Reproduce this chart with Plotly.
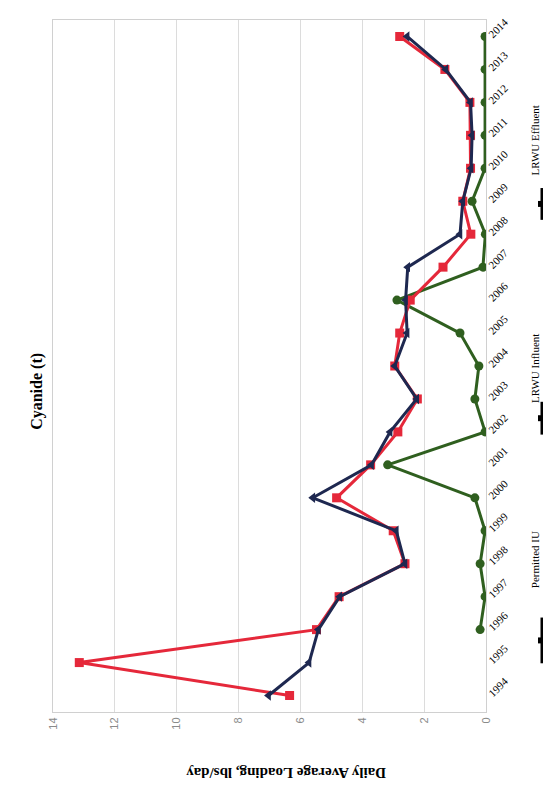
import plotly.graph_objects as go

years = list(range(1994, 2015))
permitted_iu = [None, None, 0.19, 0.03, 0.19, 0.03, 0.36, 3.18, 0.03, 0.36, 0.23, 0.84,
                2.88, 0.10, 0.02, 0.45, 0.03, 0.03, 0.03, 0.03, 0.03]
lrwu_influent = [6.35, 13.15, 5.48, 4.75, 2.62, 3.00, 4.83, 3.73, 2.85, 2.22, 2.95, 2.79,
                 2.45, 1.39, 0.49, 0.75, 0.50, 0.50, 0.52, 1.33, 2.79]
lrwu_effluent = [7.03, 5.72, 5.42, 4.73, 2.62, 2.90, 5.60, 3.70, 3.10, 2.24, 2.95, 2.55,
                 2.60, 2.53, 0.84, 0.75, 0.48, 0.45, 0.50, 1.30, 2.55]
value_ticks = [0, 2, 4, 6, 8, 10, 12, 14]

GREEN = "#2f5f1f"
RED = "#e5283a"
NAVY = "#1e2850"

fig = go.Figure()
fig.add_trace(go.Scatter(x=permitted_iu, y=years, mode="lines+markers", name="Permitted IU",
                         line=dict(color=GREEN, width=3), marker=dict(symbol="circle", size=9, color=GREEN),
                         connectgaps=False))
fig.add_trace(go.Scatter(x=lrwu_influent, y=years, mode="lines+markers", name="LRWU Influent",
                         line=dict(color=RED, width=3), marker=dict(symbol="square", size=9, color=RED)))
fig.add_trace(go.Scatter(x=lrwu_effluent, y=years, mode="lines+markers", name="LRWU Effluent",
                         line=dict(color=NAVY, width=3), marker=dict(symbol="triangle-left", size=9, color=NAVY)))

# page offset caused by default body margin
OFF = 8
W, H = 551 - OFF, 803 - OFF
# plot area in page pixels
PL, PR, PT, PB = 53, 486, 16, 712
L, T = PL - OFF, PT - OFF
R, B = W - (PR - OFF), H - (PB - OFF)
pw, ph = PR - PL, PB - PT

def px(x):
    return (x - PL) / pw

def py(y):
    return (PB - y) / ph

fig.update_layout(
    width=W, height=H,
    margin=dict(l=L, r=R, t=T, b=B),
    paper_bgcolor="white", plot_bgcolor="white",
    showlegend=False,
    font=dict(family="Liberation Serif", color="black"),
)
fig.update_xaxes(range=[14, 0], tickvals=value_ticks, ticktext=[str(v) for v in value_ticks],
                 tickangle=-90, showgrid=True, gridcolor="#dcdcdc", gridwidth=1,
                 showline=True, linecolor="#d0d0d0", mirror=True, zeroline=False,
                 tickfont=dict(family="Liberation Sans", size=11, color="#8a8a8a"), ticks="")
fig.update_yaxes(range=[1993.5, 2014.5], tickvals=years, ticktext=[str(y) for y in years],
                 side="right", tickangle=-45, showgrid=False,
                 showline=True, linecolor="#d0d0d0", mirror=True, zeroline=False,
                 tickfont=dict(family="Liberation Serif", size=11, color="black"), ticks="")

ann = []
ann.append(dict(text="<b>Daily Average Loading, lbs/day</b>", x=px(286), y=py(784), xref="paper", yref="paper",
                showarrow=False, textangle=180, font=dict(family="Liberation Serif", size=15, color="black")))
ann.append(dict(text="<b>Cyanide (t)</b>", x=px(26), y=py(390), xref="paper", yref="paper",
                showarrow=False, textangle=-90, font=dict(family="Liberation Serif", size=16, color="black")))

legend_items = [("LRWU Effluent", 100, 185, 217), ("LRWU Influent", 367, 400, 433), ("Permitted IU", 590, 617, 663)]
shapes = []
for name, ty, k0, k1 in legend_items:
    ann.append(dict(text=name, x=px(543), y=py(ty), xref="paper", yref="paper", showarrow=False,
                    textangle=-90, font=dict(family="Liberation Serif", size=11, color="black")))
    shapes.append(dict(type="line", xref="paper", yref="paper", x0=px(542), x1=px(542), y0=py(k0), y1=py(k1),
                       line=dict(color="black", width=3)))
    km = (k0 + k1) / 2
    shapes.append(dict(type="rect", xref="paper", yref="paper", x0=px(538), x1=px(546), y0=py(km - 3), y1=py(km + 3),
                       fillcolor="black", line=dict(color="black", width=0)))

fig.update_layout(annotations=ann, shapes=shapes)
fig.write_html("out.html")
